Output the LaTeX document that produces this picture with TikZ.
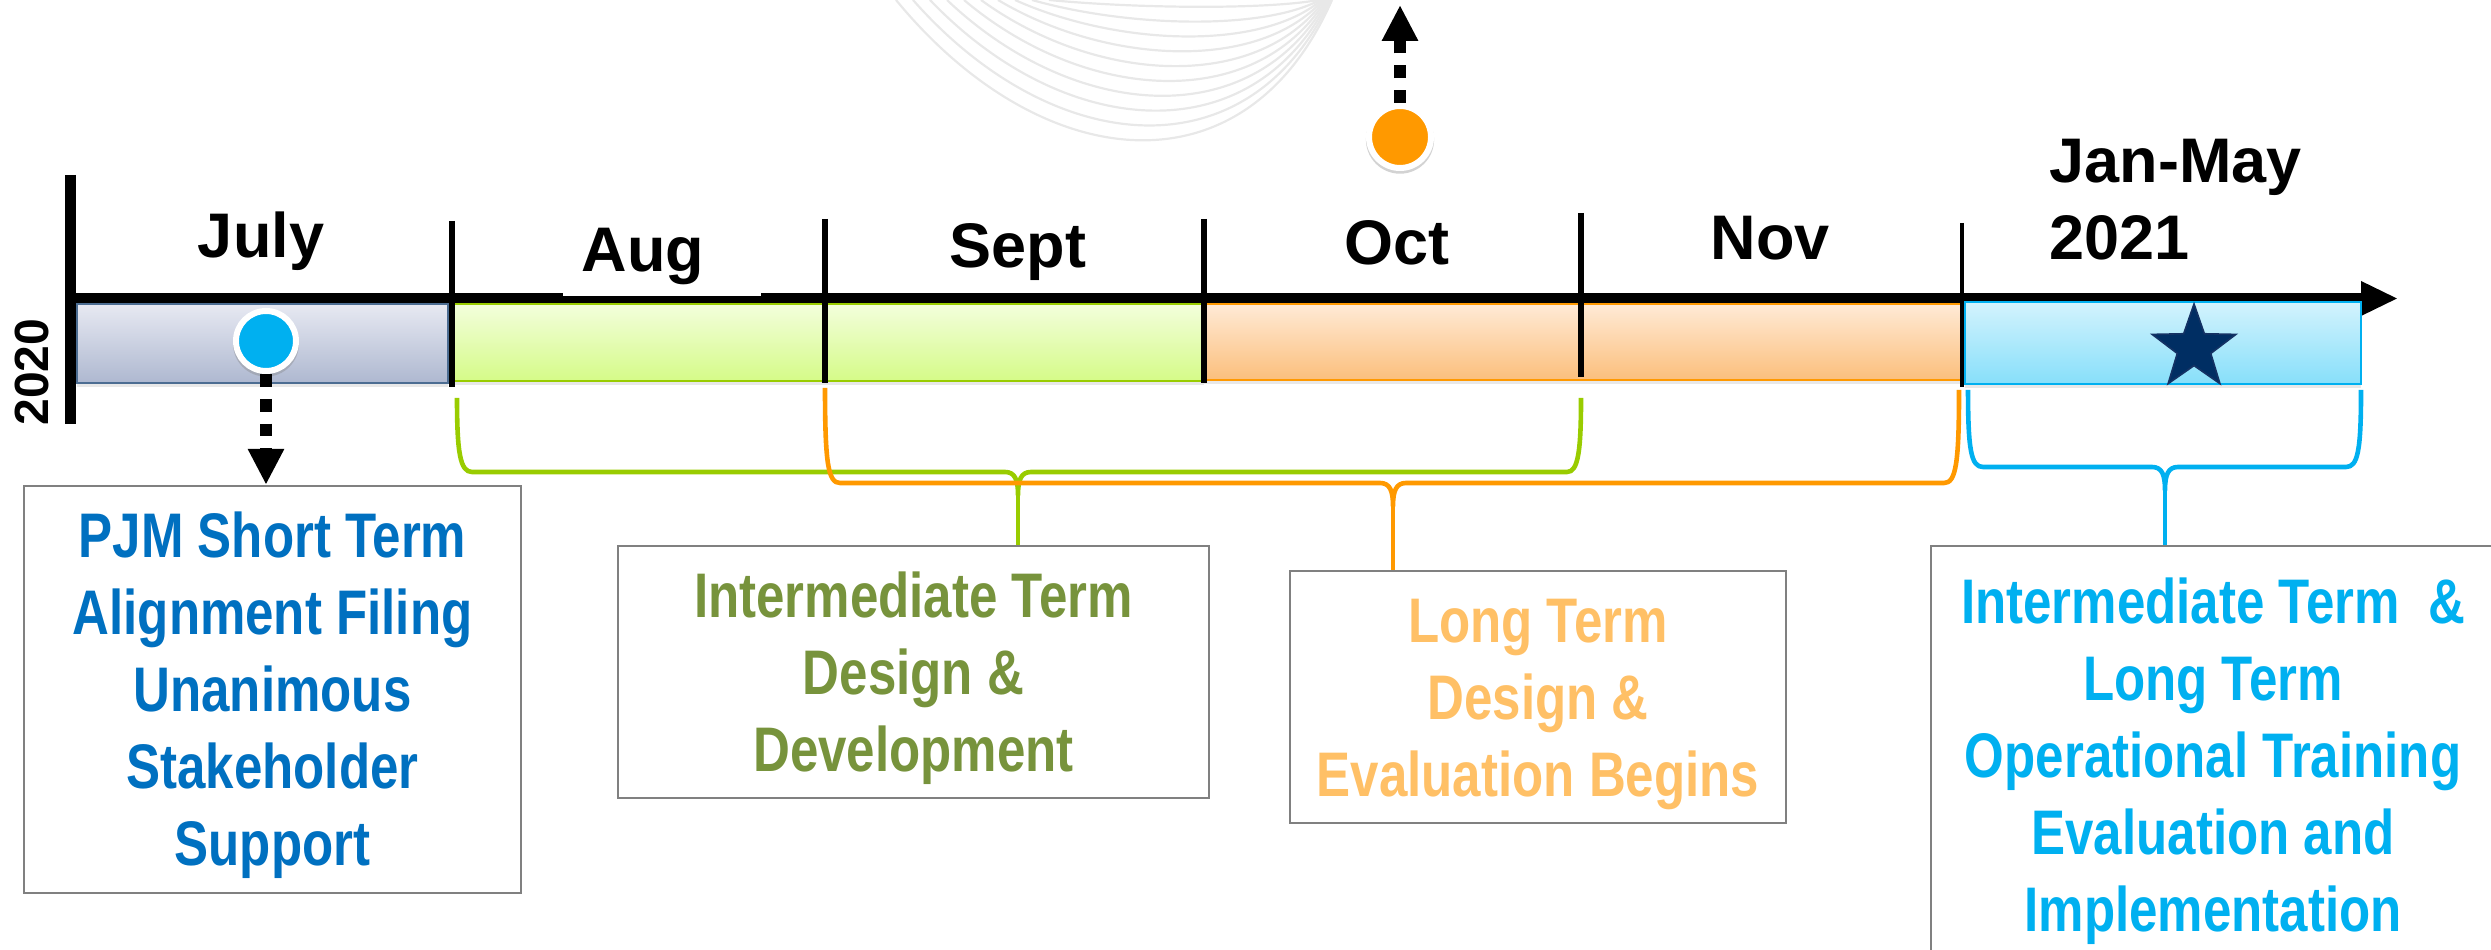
\documentclass[tikz,border=0pt]{standalone}
\usepackage{fontspec}
\setmainfont{Liberation Sans}
\newfontfamily\cnd{Liberation Sans}[FakeStretch=0.81]
\usetikzlibrary{arrows.meta,shadows,shapes.geometric}
\definecolor{cPJM}{HTML}{0070C0}
\definecolor{cOlive}{HTML}{77933C}
\definecolor{cGreen}{HTML}{99CC00}
\definecolor{cOrange}{HTML}{FF9900}
\definecolor{cLtOrange}{HTML}{FFC066}
\definecolor{cCyan}{HTML}{00B0F0}
\definecolor{cNavy}{HTML}{002E63}
\definecolor{cBgLine}{HTML}{E8E8E8}
\definecolor{cBoxLine}{HTML}{808080}
\newcommand\topstrut{\rule{0pt}{14.5pt}}
\tikzset{
  bgcurve/.style={cBgLine, line width=0.55pt},
  axisline/.style={line width=2.75pt, black},
  divider/.style={line width=1.5pt, black},
  month/.style={font=\bfseries\fontsize{15.75}{19.25}\selectfont, inner sep=0pt},
  bar/.style={line width=0.5pt, drop shadow={opacity=0.18, shadow xshift=0pt, shadow yshift=-1pt}},
  dot/.style={circle, draw=white, line width=1.5pt, inner sep=0pt,
     drop shadow={opacity=0.35, shadow xshift=0pt, shadow yshift=-0.6pt, shadow scale=1.1}},
  dasharrow/.style={line width=3.2pt, dash pattern=on 3.2pt off 3pt,
     -{Triangle[length=9pt,width=8.5pt]}},
  bracepath/.style={line width=1.15pt, line join=round},
  infobox/.style={draw=cBoxLine, line width=0.6pt, fill=white, align=center,
     inner sep=0pt, font=\cnd\bfseries\fontsize{15.75}{19.25}\selectfont}
}
\begin{document}
\begin{tikzpicture}[x=0.25pt,y=0.25pt]
\useasboundingbox (0,0) rectangle (2491,-950);
\clip (0,0) rectangle (2491,-950);
% decorative background curves
\foreach \k in {0,...,9} {
  \pgfmathsetmacro\L{896+17*\k}
  \pgfmathsetmacro\R{1332-1.5*\k}
  \pgfmathsetmacro\D{140-14.8*\k}
  \pgfmathsetmacro\W{\R-\L}
  \draw[bgcurve] (\L,0) .. controls ({\L+0.33*\W},{-1.25*\D}) and ({\L+0.8*\W},{-1.42*\D}) .. (\R,0);
}
% axes
\coordinate (tlstart) at (70,-298.5);
\coordinate (tlend) at (2398,-298.5);
\draw[axisline, -{Triangle[length=9.25pt,width=8pt]}] (tlstart) -- (tlend);
\draw[axisline] (70,-175) -- (70,-424);
\fill[white] (563,-296) rectangle (761,-240);
% bars
\path[bar, draw=cNavy!70, top color={rgb,255:red,231;green,233;blue,242}, bottom color={rgb,255:red,174;green,184;blue,208}] (77,-304) rectangle (448,-383);
\path[bar, draw=cGreen, top color={rgb,255:red,243;green,254;blue,220}, bottom color={rgb,255:red,213;green,251;blue,136}] (452,-304) rectangle (1204,-381);
\path[bar, draw=cOrange, top color={rgb,255:red,255;green,234;blue,214}, bottom color={rgb,255:red,251;green,191;blue,124}] (1204,-304) rectangle (1962,-380);
\path[bar, draw=cCyan, top color={rgb,255:red,211;green,243;blue,253}, bottom color={rgb,255:red,135;green,223;blue,250}] (1965,-302) rectangle (2361,-384);
% dividers
\draw[divider] (452,-221) -- (452,-387);
\draw[divider] (825,-219) -- (825,-383);
\draw[divider] (1204,-219) -- (1204,-383);
\draw[divider] (1581,-213) -- (1581,-377);
\draw[divider, line width=1.1pt] (1962,-223) -- (1962,-387);
% labels
\node[month, anchor=base] (mjul) at (261,-258) {July};
\node[month, anchor=base] (maug) at (643,-272) {Aug};
\node[month, anchor=base] (msep) at (1018,-268) {Sept};
\node[month, anchor=base] (moct) at (1397,-265) {Oct};
\node[month, anchor=base] (mnov) at (1770,-260) {Nov};
\node[month, anchor=north west, align=left] (mjan) at (2049,-138) {Jan-May\\2021};
\node[font=\bfseries\fontsize{12}{14}\selectfont, rotate=90, anchor=base, inner sep=0pt] (yr) at (48.5,-372) {2020};
% markers
\node[dot, fill=cCyan, minimum size=15pt] (bdot) at (266,-341) {};
\node[dot, fill=cOrange, minimum size=15.5pt] (odot) at (1400,-137) {};
\node[star, star points=5, star point ratio=2.5, fill=cNavy, draw={rgb,255:red,20;green,50;blue,100}, line width=0.4pt, minimum size=22pt, inner sep=0pt] (star) at (2194,-348) {};
% boxes
\node[infobox, text=cPJM, minimum width=124.25pt, minimum height=101.75pt] (pjm) at (272.5,-689.5) {\topstrut PJM Short Term\\Alignment Filing\\Unanimous\\Stakeholder\\Support};
\node[infobox, text=cOlive, minimum width=147.75pt, minimum height=63pt] (gbox) at (913.5,-672) {\topstrut Intermediate Term\\Design \&\\Development};
\node[infobox, text=cLtOrange, minimum width=124pt, minimum height=63pt] (obox) at (1538,-697) {\topstrut Long Term\\Design \&\\Evaluation Begins};
\node[infobox, text=cCyan, minimum width=141pt, minimum height=104.5pt] (bbox) at (2213,-755) {\topstrut Intermediate Term~~\&\\Long Term\\Operational Training\\Evaluation and\\Implementation};
% dashed arrows
\coordinate (upend) at (1400,-5);
\draw[dasharrow] (bdot.south) -- (bdot.south |- pjm.north);
\draw[dasharrow] (odot.north) -- (upend);
% braces
\coordinate (gmid) at (1018,-495);
\draw[bracepath, cGreen] (457,-398) .. controls (457,-452) and (460,-472) .. (472,-472) -- (1005,-472) .. controls (1015,-472) and (1018,-480) .. (gmid) .. controls (1018,-480) and (1021,-472) .. (1031,-472) -- (1567,-472) .. controls (1578,-472) and (1581,-452) .. (1581,-398);
\draw[bracepath, cGreen] (gmid) -- (gmid |- gbox.north);
\coordinate (omid) at (1393,-506);
\draw[bracepath, cOrange] (825,-388) .. controls (825,-463) and (828,-483) .. (840,-483) -- (1380,-483) .. controls (1390,-483) and (1393,-491) .. (omid) .. controls (1393,-491) and (1396,-483) .. (1406,-483) -- (1944,-483) .. controls (1956,-483) and (1959,-463) .. (1959,-390);
\draw[bracepath, cOrange] (omid) -- (omid |- obox.north);
\coordinate (bmid) at (2165,-490);
\draw[bracepath, cCyan] (1968,-390) .. controls (1968,-450) and (1971,-467) .. (1983,-467) -- (2152,-467) .. controls (2162,-467) and (2165,-475) .. (bmid) .. controls (2165,-475) and (2168,-467) .. (2178,-467) -- (2346,-467) .. controls (2358,-467) and (2361,-450) .. (2361,-390);
\draw[bracepath, cCyan] (bmid) -- (bmid |- bbox.north);
\end{tikzpicture}
\end{document}
